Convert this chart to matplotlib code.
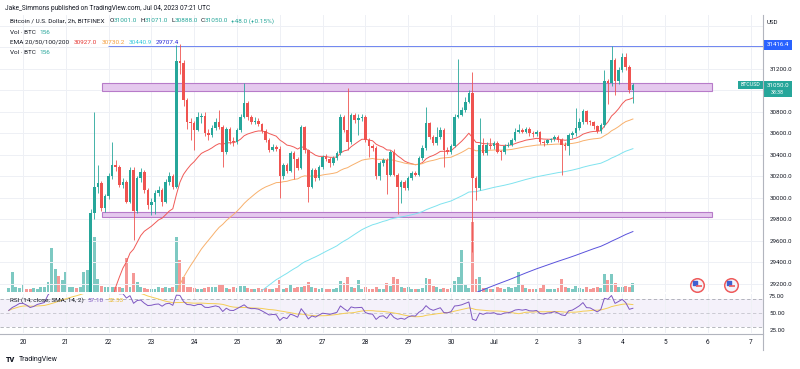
import numpy as np
import pandas as pd
import matplotlib
matplotlib.use("Agg")
import matplotlib.pyplot as plt
from matplotlib.patches import Rectangle
from matplotlib.lines import Line2D

plt.rcParams['font.family'] = ['Roboto', 'DejaVu Sans']

# BTCUSD Bitfinex, 2h candles; x in "day of June" units (Jul 1 = 31)
first_bar = 19 + 16 / 24      # Jun 19 16:00 UTC
first_open = 26400

closes = [
    26450, 26600, 26700, 26830,
    26840, 26780, 26700, 26750, 26850, 26900, 26950, 27500, 28150, 28300, 28250, 28350,
    28400, 28650, 28750, 28600, 28700, 28850, 28900, 29860, 30105, 30135, 29905, 30015,
    30200, 30305, 30290, 30120, 30150, 29965, 30260, 29875, 30185, 30245, 30075, 29935,
    29965, 30045, 30075, 29965, 30150, 30200, 30105, 31270, 31255, 30910, 30710, 30695,
    30635, 30755, 30760, 30600, 30590, 30650, 30710, 30660, 30430, 30640, 30530, 30520,
    30630, 30755, 30880, 30750, 30710, 30715, 30690, 30620, 30540, 30450, 30470, 30460,
    30200, 30310, 30250, 30420, 30360, 30280, 30660, 30445, 30105, 30260, 30185, 30290,
    30385, 30360, 30325, 30370, 30415, 30755, 30635, 30525, 30770, 30730, 30745, 30755,
    30540, 30480, 30465, 30200, 30325, 30350, 30215, 30430, 30215, 30105, 30150, 30090,
    30185, 30230, 30215, 30370, 30465, 30695, 30570, 30510, 30570, 30635, 30445, 30430,
    30480, 30755, 30775, 30820, 30895, 30975, 30185, 30090, 30490, 30415, 30495, 30480,
    30510, 30430, 30425, 30485, 30495, 30540, 30615, 30635, 30615, 30640, 30600, 30595,
    30610, 30525, 30510, 30535, 30545, 30570, 30540, 30495, 30480, 30585, 30600, 30650,
    30710, 30805, 30710, 30705, 30665, 30625, 30680, 31085, 31065, 31285, 31085, 31190,
    31315, 31220, 31001, 31050,
]
highs = [
    26520, 26650, 26760, 26880,
    26900, 26870, 26800, 26790, 26900, 26950, 27050, 27580, 28250, 28400, 28380, 28420,
    28470, 28700, 28800, 28780, 28750, 28900, 28980, 29900, 30800, 30310, 30160, 30040,
    30230, 30520, 30350, 30310, 30190, 30170, 30290, 30290, 30200, 30280, 30260, 30090,
    30000, 30070, 30110, 30090, 30180, 30240, 30220, 31420, 31430, 31280, 30930, 30740,
    30720, 30800, 30790, 30800, 30640, 30680, 30740, 30820, 30680, 30660, 30660, 30570,
    30650, 30780, 31065, 30900, 30770, 30750, 30740, 30700, 30640, 30560, 30500, 30490,
    30480, 30330, 30330, 30440, 30440, 30380, 30680, 30670, 30460, 30280, 30280, 30310,
    30400, 30410, 30380, 30390, 30440, 30780, 30770, 31020, 30790, 30790, 30780, 30780,
    30770, 30560, 30500, 30480, 30340, 30370, 30370, 30450, 30460, 30230, 30170, 30170,
    30200, 30250, 30250, 30390, 30490, 30850, 30710, 30590, 30660, 30660, 30650, 30470,
    30500, 30780, 31290, 30850, 30940, 31000, 31170, 30200, 30740, 30555, 30520, 30560,
    30530, 30530, 30450, 30500, 30520, 30560, 30650, 30690, 30650, 30660, 30660, 30620,
    30630, 30620, 30540, 30550, 30560, 30590, 30590, 30560, 30520, 30600, 30620, 30835,
    30740, 30830, 30820, 30730, 30720, 30680, 30700, 31190, 31110, 31416, 31300, 31220,
    31345, 31345, 31240, 31071,
]
lows = [
    26350, 26420, 26560, 26680,
    26780, 26720, 26650, 26660, 26720, 26820, 26880, 26930, 27450, 28100, 28150, 28200,
    28300, 28380, 28600, 28550, 28560, 28680, 28800, 28880, 29800, 30050, 29880, 29870,
    29990, 30180, 30250, 30100, 30090, 29950, 29950, 29610, 29860, 30150, 30050, 29900,
    29840, 29850, 30020, 29930, 29950, 30120, 30080, 30090, 31150, 30860, 30640, 30540,
    30450, 30620, 30700, 30580, 30540, 30570, 30630, 30640, 30290, 30410, 30500, 30480,
    30500, 30610, 30740, 30730, 30690, 30690, 30670, 30600, 30520, 30430, 30440, 30440,
    30000, 30180, 30230, 30240, 30180, 30260, 30270, 30420, 29965, 30090, 30160, 30170,
    30270, 30340, 30290, 30310, 30350, 30400, 30610, 30450, 30500, 30700, 30590, 30720,
    30520, 30380, 30440, 30180, 30170, 30300, 30040, 30200, 30200, 29855, 29950, 30070,
    30070, 30170, 30200, 30200, 30350, 30450, 30550, 30490, 30490, 30550, 30290, 30410,
    30410, 30470, 30740, 30760, 30800, 30880, 29500, 29985, 30070, 30400, 30400, 30460,
    30460, 30420, 30355, 30410, 30470, 30480, 30530, 30600, 30600, 30600, 30580, 30570,
    30580, 30500, 30480, 30500, 30520, 30530, 30520, 30215, 30450, 30400, 30560, 30580,
    30630, 30690, 30690, 30680, 30640, 30600, 30600, 30660, 30870, 31040, 30960, 31060,
    31170, 31190, 30980, 30888,
]
volumes = [
    68, 340, 85, 68,
    136, 51, 51, 68, 51, 85, 85, 170, 748, 391, 272, 204,
    340, 85, 85, 68, 85, 340, 374, 595, 935, 221, 102, 85,
    85, 85, 85, 85, 68, 578, 85, 323, 170, 85, 68, 51,
    51, 51, 85, 68, 85, 68, 85, 935, 544, 255, 85, 85,
    68, 51, 51, 68, 85, 85, 85, 119, 119, 68, 51, 85,
    68, 102, 102, 68, 51, 51, 68, 51, 68, 51, 51, 68,
    204, 51, 68, 119, 68, 85, 85, 102, 170, 85, 68, 51,
    68, 51, 51, 51, 68, 187, 153, 255, 85, 68, 204, 51,
    85, 51, 51, 85, 51, 51, 153, 102, 255, 221, 85, 68,
    85, 51, 51, 51, 68, 238, 221, 102, 85, 51, 68, 51,
    68, 187, 255, 714, 119, 68, 1190, 221, 255, 68, 68, 51,
    51, 85, 68, 51, 85, 68, 85, 340, 119, 68, 51, 51,
    51, 68, 136, 51, 51, 51, 68, 221, 85, 68, 51, 102,
    68, 51, 85, 51, 68, 85, 68, 306, 204, 306, 153, 85,
    85, 102, 85, 156,
]

ema_lengths = [20, 50, 100, 200]
ema_seeds = [26500, 26450, 26400, 26190]
ema_colors = ['#f05a57', '#f8b06c', '#7fe3ef', '#5a52dc']

zones = [(29826, 29872), (30995, 31068)]
zone_from, zone_to = 21.85, 36.10
level = 31416.4
level_from = 21.99
events = [35.75, 36.54]

price_ticks = list(range(29200, 31601, 200))
hidden_prices = [31000, 31400, 31600]
day_ticks = list(range(20, 38))
day_labels = ['20', '21', '22', '23', '24', '25', '26', '27', '28', '29', '30',
              'Jul', '2', '3', '4', '5', '6', '7']

W, H = 800, 369
UP, DOWN = '#26a69a', '#ef5350'
TXT = '#131722'


def fx(px):
    return px / W


def fy(py):
    return 1 - py / H


c = np.array(closes, float)
o = np.concatenate([[first_open], c[:-1]])
t = first_bar + np.arange(len(c)) / 12
up = c >= o
col = np.where(up, UP, DOWN)
xlim = (20 - 23 / 42.8, 20 + 740 / 42.8)

fig = plt.figure(figsize=(8, 3.69), dpi=100)
main_rect = [0, fy(292), fx(763), 277 / H]

# volume sits underneath the price pane
vol = fig.add_axes(main_rect)
vol.bar(t, volumes, width=0.068, color=col, alpha=0.6, lw=0)
vol.set_xlim(xlim)
vol.set_ylim(0, 277 * 17)
vol.axis('off')

ax = fig.add_axes(main_rect)
ax.patch.set_alpha(0)
ax.set_xlim(xlim)
ax.set_ylim(29125.6, 31702)
ax.set_xticks(day_ticks)
ax.set_yticks(price_ticks)
ax.set_yticklabels(['' if p in hidden_prices else f'{p:.1f}' for p in price_ticks])
ax.yaxis.tick_right()
ax.tick_params(axis='x', length=0, labelbottom=False)
ax.tick_params(axis='y', length=0, pad=4.5, labelsize=4.4, labelcolor=TXT)
ax.grid(True, color='#eef0f5', lw=0.7)
ax.set_axisbelow(True)
for s in ax.spines.values():
    s.set_visible(False)

for lo, hi in zones:
    ax.add_patch(Rectangle((zone_from, lo), zone_to - zone_from, hi - lo,
                           facecolor='#e5c9ee', edgecolor='#b77bc9', lw=0.8, zorder=1))
ax.hlines(level, level_from, xlim[1], color='#6f86f0', lw=0.7, zorder=1)

for n, seed, colr in zip(ema_lengths, ema_seeds, ema_colors):
    a = 2 / (n + 1)
    e = seed
    vals = []
    for v in c:
        e += a * (v - e)
        vals.append(e)
    ax.plot(t, vals, color=colr, lw=0.7, zorder=2)

ax.vlines(t, lows, highs, colors=col, lw=0.6, zorder=3)
ax.bar(t, np.maximum(np.abs(c - o), 9), bottom=np.minimum(o, c), width=0.06,
       color=col, lw=0, zorder=4)

ax.scatter(events, [29195] * 2, s=95, facecolor='#f3f5fb', edgecolor='#ef5b5b',
           lw=1.1, zorder=6, clip_on=False)
ax.scatter(np.array(events) - 0.04, [29210] * 2, s=7, marker='s', color='#3f5fd0',
           zorder=7, clip_on=False)
ax.scatter(np.array(events) + 0.035, [29185] * 2, s=14, marker='_', color='#ef5b5b',
           lw=1.2, zorder=7, clip_on=False)

# RSI pane
diff = np.diff(np.concatenate([[first_open], c]))
g, l = 60.0, 55.0
rsi = []
for d in diff:
    g = (g * 13 + max(d, 0)) / 14
    l = (l * 13 + max(-d, 0)) / 14
    rsi.append(100 - 100 / (1 + g / l))
rsi_sma = pd.Series(rsi).rolling(14, min_periods=1).mean()

rs = fig.add_axes([0, fy(333), fx(763), 39 / H])
rs.set_xlim(xlim)
rs.set_ylim(20.6, 77.9)
rs.axhspan(30, 70, color='#7e57c2', alpha=0.08, lw=0)
for lvl, a_ in ((70, 0.8), (50, 0.5), (30, 0.8)):
    rs.axhline(lvl, color='#9598a1', lw=0.6, ls=(0, (4, 3)), alpha=a_)
rs.plot(t, rsi_sma, color='#f5cd55', lw=0.7)
rs.plot(t, rsi, color='#7e57c2', lw=0.7)
rs.set_xticks(day_ticks)
rs.set_xticklabels(day_labels)
rs.set_yticks([25, 50, 75])
rs.set_yticklabels(['25.00', '50.00', '75.00'])
rs.yaxis.tick_right()
rs.tick_params(axis='x', length=0, pad=4, labelsize=4.7, labelcolor=TXT)
rs.tick_params(axis='y', length=0, pad=4.5, labelsize=4.4, labelcolor=TXT)
rs.grid(True, axis='x', color='#eef0f5', lw=0.7)
for s in rs.spines.values():
    s.set_visible(False)

# pane / scale separators
fig.add_artist(Line2D([fx(763), fx(763)], [fy(15), fy(350)], color='#b2b5be', lw=0.8))
fig.add_artist(Line2D([0, fx(763)], [fy(333.5), fy(333.5)], color='#b2b5be', lw=0.8))


# price scale labels
def box(x0, y0, x1, y1, colr):
    fig.add_artist(Rectangle((fx(x0), fy(y1)), fx(x1 - x0), (y1 - y0) / H,
                             transform=fig.transFigure, facecolor=colr, lw=0))


fig.text(fx(767), fy(23), 'USD', fontsize=4.4, color=TXT, va='center')
box(763.5, 40.5, 792, 49.5, '#2962ff')
fig.text(fx(777.7), fy(45), f'{level:.1f}', fontsize=4.4, color='white', ha='center', va='center')
box(763.5, 81, 792, 96.5, UP)
fig.text(fx(777.7), fy(85.5), f'{closes[-1]:.1f}', fontsize=4.4, color='white', ha='center', va='center')
fig.text(fx(777.7), fy(92.5), '38:38', fontsize=3.8, color='white', ha='center', va='center')
box(738, 81, 762.5, 88.5, UP)
fig.text(fx(750.2), fy(84.8), 'BTCUSD', fontsize=3.8, color='white', ha='center', va='center')

# header / legend texts
fig.canvas.draw()
rend = fig.canvas.get_renderer()


def parts(px, py, items, size):
    x = px
    for s, colr, gap in items:
        tx = fig.text(fx(x), fy(py), s, fontsize=size, color=colr, va='center', ha='left')
        x += tx.get_window_extent(rend).width + gap


fig.text(fx(5), fy(8), 'Jake_Simmons published on TradingView.com, Jul 04, 2023 07:21 UTC',
         fontsize=4.7, color=TXT, va='center')
parts(10, 21, [('Bitcoin / U.S. Dollar, 2h, BITFINEX', TXT, 5),
               ('O', TXT, 0), ('31001.0', UP, 3), ('H', TXT, 0), ('31071.0', UP, 3),
               ('L', TXT, 0), ('30888.0', UP, 3), ('C', TXT, 0), ('31050.0', UP, 3),
               ('+48.0 (+0.15%)', UP, 0)], 4.6)
parts(10, 32, [('Vol · BTC', TXT, 4), ('156', UP, 0)], 4.6)
parts(10, 42, [('EMA 20/50/100/200', TXT, 5), ('30927.0', '#e53935', 4),
               ('30730.2', '#f5a040', 4), ('30440.9', '#38c9dc', 4),
               ('29707.4', '#2a2ad8', 0)], 4.6)
parts(10, 53, [('Vol · BTC', TXT, 4), ('156', UP, 0)], 4.6)
parts(10, 300, [('RSI (14, close, SMA, 14, 2)', TXT, 4), ('57.10', '#7e57c2', 4),
                ('52.53', '#e9b92e', 0)], 4.6)

fig.text(fx(6), fy(359.5), 'TV', fontsize=5.2, fontweight='heavy', color=TXT, va='center')
fig.text(fx(19), fy(359.5), 'TradingView', fontsize=5.0, color=TXT, va='center')

fig.savefig('out.png', dpi=100)
